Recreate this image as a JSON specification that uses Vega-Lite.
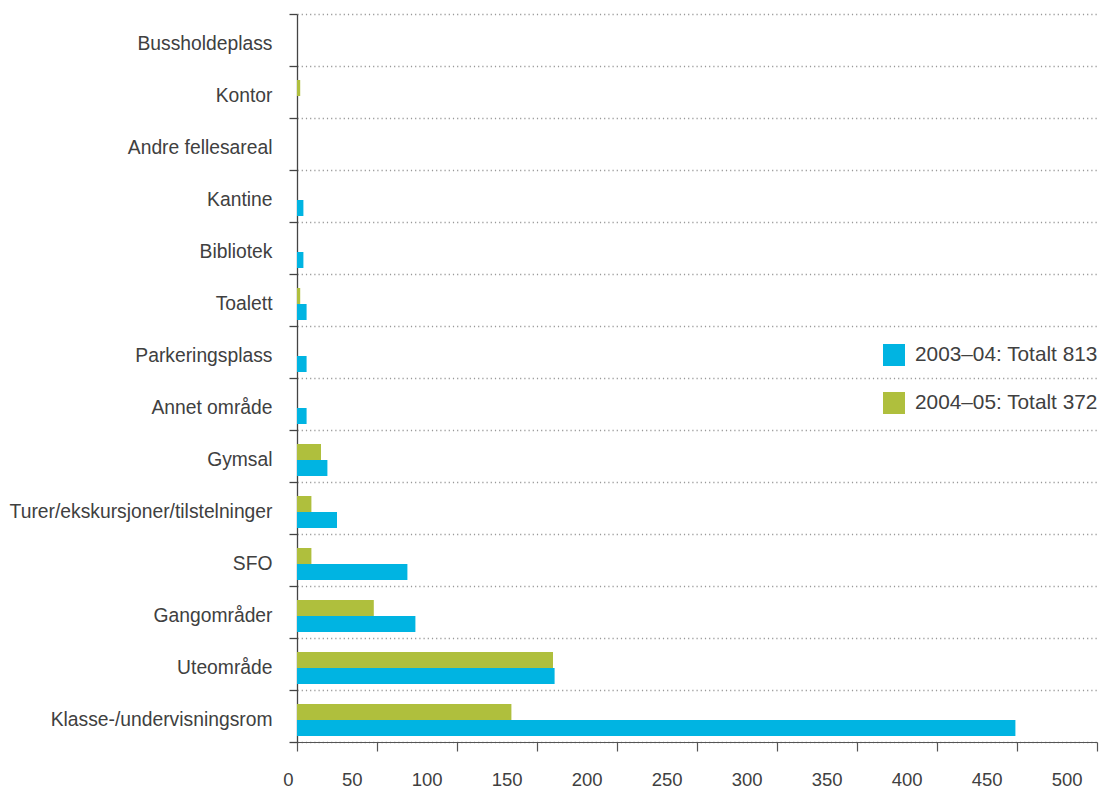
{
  "$schema": "https://vega.github.io/schema/vega-lite/v6.json",
  "width": 800,
  "height": 728,
  "autosize": {"type": "none"},
  "padding": {"left": 297, "top": 14, "right": 6, "bottom": 47},
  "background": "white",
  "data": {
    "values": [
      {"omrade": "Bussholdeplass", "periode": "2003–04: Totalt 813", "antall": 0},
      {"omrade": "Bussholdeplass", "periode": "2004–05: Totalt 372", "antall": 0},
      {"omrade": "Kontor", "periode": "2003–04: Totalt 813", "antall": 0},
      {"omrade": "Kontor", "periode": "2004–05: Totalt 372", "antall": 2},
      {"omrade": "Andre fellesareal", "periode": "2003–04: Totalt 813", "antall": 0},
      {"omrade": "Andre fellesareal", "periode": "2004–05: Totalt 372", "antall": 0},
      {"omrade": "Kantine", "periode": "2003–04: Totalt 813", "antall": 4},
      {"omrade": "Kantine", "periode": "2004–05: Totalt 372", "antall": 0},
      {"omrade": "Bibliotek", "periode": "2003–04: Totalt 813", "antall": 4},
      {"omrade": "Bibliotek", "periode": "2004–05: Totalt 372", "antall": 0},
      {"omrade": "Toalett", "periode": "2003–04: Totalt 813", "antall": 6},
      {"omrade": "Toalett", "periode": "2004–05: Totalt 372", "antall": 2},
      {"omrade": "Parkeringsplass", "periode": "2003–04: Totalt 813", "antall": 6},
      {"omrade": "Parkeringsplass", "periode": "2004–05: Totalt 372", "antall": 0},
      {"omrade": "Annet område", "periode": "2003–04: Totalt 813", "antall": 6},
      {"omrade": "Annet område", "periode": "2004–05: Totalt 372", "antall": 0},
      {"omrade": "Gymsal", "periode": "2003–04: Totalt 813", "antall": 19},
      {"omrade": "Gymsal", "periode": "2004–05: Totalt 372", "antall": 15},
      {"omrade": "Turer/ekskursjoner/tilstelninger", "periode": "2003–04: Totalt 813", "antall": 25},
      {"omrade": "Turer/ekskursjoner/tilstelninger", "periode": "2004–05: Totalt 372", "antall": 9},
      {"omrade": "SFO", "periode": "2003–04: Totalt 813", "antall": 69},
      {"omrade": "SFO", "periode": "2004–05: Totalt 372", "antall": 9},
      {"omrade": "Gangområder", "periode": "2003–04: Totalt 813", "antall": 74},
      {"omrade": "Gangområder", "periode": "2004–05: Totalt 372", "antall": 48},
      {"omrade": "Uteområde", "periode": "2003–04: Totalt 813", "antall": 161},
      {"omrade": "Uteområde", "periode": "2004–05: Totalt 372", "antall": 160},
      {"omrade": "Klasse-/undervisningsrom", "periode": "2003–04: Totalt 813", "antall": 449},
      {"omrade": "Klasse-/undervisningsrom", "periode": "2004–05: Totalt 372", "antall": 134}
    ]
  },
  "mark": {"type": "bar"},
  "encoding": {
    "y": {
      "field": "omrade",
      "type": "nominal",
      "title": null,
      "sort": ["Bussholdeplass", "Kontor", "Andre fellesareal", "Kantine", "Bibliotek", "Toalett", "Parkeringsplass", "Annet område", "Gymsal", "Turer/ekskursjoner/tilstelninger", "SFO", "Gangområder", "Uteområde", "Klasse-/undervisningsrom"],
      "scale": {"paddingInner": 0, "paddingOuter": 0},
      "axis": {
        "tickBand": "extent",
        "grid": true,
        "gridDash": [1.2, 3],
        "gridColor": "#999999",
        "gridWidth": 1.5,
        "domainColor": "#444444",
        "domainWidth": 1.3,
        "tickColor": "#444444",
        "tickWidth": 1.3,
        "tickSize": 8,
        "labelFont": "Liberation Sans",
        "labelFontSize": 19.3,
        "labelColor": "#404040",
        "labelPadding": 17,
        "labelOffset": 3,
        "labelLimit": 400
      }
    },
    "x": {
      "field": "antall",
      "type": "quantitative",
      "title": null,
      "scale": {"domain": [0, 500], "nice": false},
      "axis": {
        "values": [0, 50, 100, 150, 200, 250, 300, 350, 400, 450, 500],
        "grid": false,
        "domainColor": "#555555",
        "domainWidth": 1.2,
        "tickColor": "#555555",
        "tickWidth": 1.2,
        "tickSize": 9,
        "labelFont": "Liberation Sans",
        "labelFontSize": 18.5,
        "labelColor": "#404040",
        "labelAlign": {"condition": {"test": "datum.value === 0", "value": "center"}, "value": "right"},
        "labelOffset": {"condition": {"test": "datum.value === 0", "value": -9}, "value": -15},
        "labelPadding": 19,
        "labelFlush": false,
        "labelOverlap": false
      }
    },
    "color": {
      "field": "periode",
      "type": "nominal",
      "scale": {"domain": ["2003–04: Totalt 813", "2004–05: Totalt 372"], "range": ["#00b4e2", "#afbf3d"]},
      "legend": {
        "title": null,
        "orient": "none",
        "legendX": 586,
        "legendY": 330,
        "symbolType": "square",
        "symbolSize": 484,
        "symbolStrokeWidth": 0,
        "symbolOpacity": 1,
        "labelFont": "Liberation Sans",
        "labelFontSize": 20.8,
        "labelColor": "#404040",
        "labelOffset": 10,
        "labelLimit": 400,
        "rowPadding": 26
      }
    },
    "yOffset": {
      "field": "periode",
      "type": "nominal",
      "scale": {"domain": ["2004–05: Totalt 372", "2003–04: Totalt 813"], "range": [14, 46]}
    }
  },
  "config": {"view": {"stroke": null}, "font": "Liberation Sans"}
}
